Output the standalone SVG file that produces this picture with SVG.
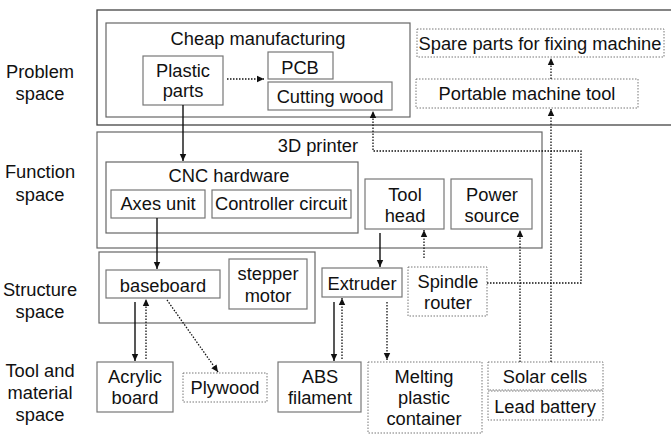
<svg xmlns="http://www.w3.org/2000/svg" width="671" height="434" viewBox="0 0 671 434">
<style>
text{font-family:"Liberation Sans",Arial,sans-serif;font-size:18.3px;fill:#111;text-anchor:middle}
.outer{fill:none;stroke:#444;stroke-width:1.3}
.box{fill:#fff;stroke:#777;stroke-width:1.2}
.grp{fill:none;stroke:#666;stroke-width:1.2}
.dbox{fill:#fff;stroke:#777;stroke-width:1;stroke-dasharray:1.5 1.5}
.solid{fill:none;stroke:#111;stroke-width:1.4}
.dot{fill:none;stroke:#111;stroke-width:1.3;stroke-dasharray:1.5 1.5}
</style>
<defs>
<marker id="ah" markerUnits="userSpaceOnUse" markerWidth="8" markerHeight="8" viewBox="0 0 8 8" refX="7" refY="4" orient="auto">
<path d="M0,0.8 L7,4 L0,7.2 Z" fill="#111"/>
</marker>
</defs>
<rect width="671" height="434" fill="#fff"/>
<g id="labels">
<text x="40" y="78">Problem</text><text x="40" y="100">space</text>
<text x="40" y="178">Function</text><text x="40" y="201">space</text>
<text x="40" y="296">Structure</text><text x="40" y="318">space</text>
<text x="40" y="377">Tool and</text><text x="40" y="399">material</text><text x="40" y="421">space</text>
</g>
<g id="problem-space"><rect class="outer" x="97" y="10" width="590" height="115"/></g>
<g id="cheap-manufacturing"><rect class="grp" x="106" y="23" width="304" height="94"/><text x="258" y="45">Cheap manufacturing</text></g>
<g id="plastic-parts"><rect class="box" x="143" y="56" width="80" height="49"/><text x="183" y="77">Plastic</text><text x="183" y="97">parts</text></g>
<g id="pcb"><rect class="box" x="268" y="52" width="65" height="27"/><text x="300" y="74">PCB</text></g>
<g id="cutting-wood"><rect class="box" x="268" y="82" width="124" height="28"/><text x="330" y="103">Cutting wood</text></g>
<g id="spare-parts"><rect class="dbox" x="417" y="29" width="247" height="28"/><text x="540" y="50">Spare parts for fixing machine</text></g>
<g id="portable-machine-tool"><rect class="dbox" x="416" y="79" width="222" height="29"/><text x="527" y="100">Portable machine tool</text></g>
<g id="printer-3d"><rect class="grp" x="97" y="132" width="445" height="116"/><text x="358" y="152" style="text-anchor:end">3D printer</text></g>
<g id="cnc-hardware"><rect class="grp" x="106" y="162" width="252" height="71"/><text x="229" y="182">CNC hardware</text></g>
<g id="axes-unit"><rect class="box" x="111" y="190" width="94" height="28"/><text x="158" y="210">Axes unit</text></g>
<g id="controller-circuit"><rect class="box" x="212" y="190" width="139" height="28"/><text x="281" y="210">Controller circuit</text></g>
<g id="tool-head"><rect class="box" x="365" y="179" width="79" height="50"/><text x="405" y="201">Tool</text><text x="405" y="222">head</text></g>
<g id="power-source"><rect class="box" x="451" y="179" width="81" height="50"/><text x="492" y="201">Power</text><text x="492" y="222">source</text></g>
<g id="structure-space"><rect class="grp" x="99" y="252" width="216" height="71"/></g>
<g id="baseboard"><rect class="box" x="106" y="270" width="114" height="28"/><text x="163" y="292">baseboard</text></g>
<g id="stepper-motor"><rect class="box" x="229" y="259" width="78" height="50"/><text x="268" y="280">stepper</text><text x="268" y="302">motor</text></g>
<g id="extruder"><rect class="box" x="322" y="268" width="80" height="29"/><text x="362" y="290">Extruder</text></g>
<g id="spindle-router"><rect class="dbox" x="408" y="267" width="79" height="49"/><text x="448" y="288">Spindle</text><text x="448" y="309">router</text></g>
<g id="acrylic-board"><rect class="box" x="97" y="362" width="76" height="50"/><text x="135" y="383">Acrylic</text><text x="135" y="404">board</text></g>
<g id="plywood"><rect class="dbox" x="183" y="373" width="84" height="29"/><text x="225" y="394">Plywood</text></g>
<g id="abs-filament"><rect class="box" x="278" y="362" width="83" height="50"/><text x="320" y="383">ABS</text><text x="320" y="404">filament</text></g>
<g id="melting-container"><rect class="dbox" x="368" y="362" width="114" height="71"/><text x="424" y="383">Melting</text><text x="424" y="404">plastic</text><text x="424" y="425">container</text></g>
<g id="solar-cells"><rect class="dbox" x="488" y="362" width="115" height="28"/><text x="545" y="383">Solar cells</text></g>
<g id="lead-battery"><rect class="dbox" x="488" y="391" width="115" height="29"/><text x="545" y="413">Lead battery</text></g>
<g id="connectors">
<path class="dot" d="M227,79 H264" marker-end="url(#ah)"/>
<path class="solid" d="M183,105 V161" marker-end="url(#ah)"/>
<path class="dot" d="M487,283 H581 V151 H373 V111" marker-end="url(#ah)"/>
<path class="dot" d="M551,79 V58" marker-end="url(#ah)"/>
<path class="dot" d="M551,362 V109" marker-end="url(#ah)"/>
<path class="dot" d="M520,362 V230" marker-end="url(#ah)"/>
<path class="dot" d="M424,258 V230" marker-end="url(#ah)"/>
<path class="solid" d="M157,218 V269" marker-end="url(#ah)"/>
<path class="solid" d="M380,233 V267" marker-end="url(#ah)"/>
<path class="solid" d="M135,302 V361" marker-end="url(#ah)"/>
<path class="dot" d="M146,359 V299" marker-end="url(#ah)"/>
<path class="dot" d="M167,300 L218,372" marker-end="url(#ah)"/>
<path class="solid" d="M334,302 V361" marker-end="url(#ah)"/>
<path class="dot" d="M342,359 V298" marker-end="url(#ah)"/>
<path class="dot" d="M387,302 V360" marker-end="url(#ah)"/>
</g>
</svg>
